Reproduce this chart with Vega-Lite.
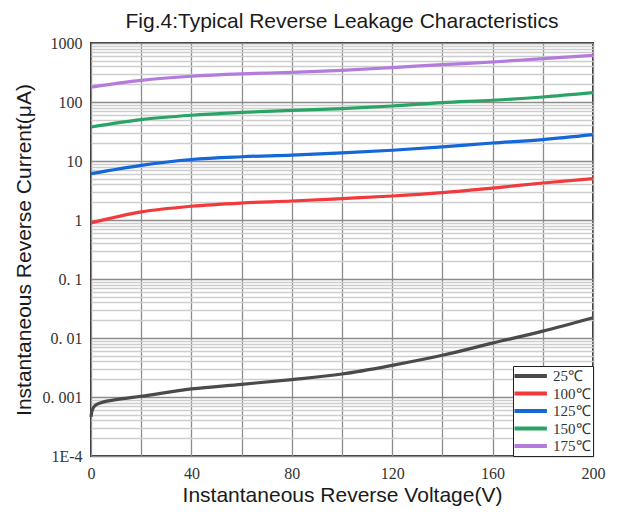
{
  "$schema": "https://vega.github.io/schema/vega-lite/v6.json",
  "width": 502,
  "height": 413,
  "autosize": {"type": "none"},
  "padding": {"left": 91, "top": 43, "right": 29, "bottom": 63},
  "background": "white",
  "title": {
    "text": "Fig.4:Typical Reverse Leakage Characteristics",
    "font": "Liberation Sans",
    "fontSize": 21,
    "fontWeight": "normal",
    "color": "#1a1a1a",
    "anchor": "middle",
    "baseline": "top",
    "offset": 3
  },
  "config": {
    "view": {"stroke": "#333333", "strokeWidth": 2},
    "axis": {"ticks": false, "domain": false}
  },
  "data": {
    "values": [
      {"V": 0, "I": 0.00046, "T": "25℃"},
      {"V": 0.4, "I": 0.00058, "T": "25℃"},
      {"V": 1.5, "I": 0.00071, "T": "25℃"},
      {"V": 4, "I": 0.0008, "T": "25℃"},
      {"V": 10, "I": 0.0009, "T": "25℃"},
      {"V": 20, "I": 0.00103, "T": "25℃"},
      {"V": 40, "I": 0.00137, "T": "25℃"},
      {"V": 60, "I": 0.00164, "T": "25℃"},
      {"V": 80, "I": 0.00197, "T": "25℃"},
      {"V": 100, "I": 0.00245, "T": "25℃"},
      {"V": 120, "I": 0.00344, "T": "25℃"},
      {"V": 140, "I": 0.00509, "T": "25℃"},
      {"V": 160, "I": 0.0082, "T": "25℃"},
      {"V": 180, "I": 0.0131, "T": "25℃"},
      {"V": 200, "I": 0.0221, "T": "25℃"},
      {"V": 0, "I": 0.89, "T": "100℃"},
      {"V": 20, "I": 1.37, "T": "100℃"},
      {"V": 40, "I": 1.71, "T": "100℃"},
      {"V": 60, "I": 1.94, "T": "100℃"},
      {"V": 80, "I": 2.1, "T": "100℃"},
      {"V": 100, "I": 2.31, "T": "100℃"},
      {"V": 120, "I": 2.55, "T": "100℃"},
      {"V": 140, "I": 2.91, "T": "100℃"},
      {"V": 160, "I": 3.48, "T": "100℃"},
      {"V": 180, "I": 4.24, "T": "100℃"},
      {"V": 200, "I": 5.03, "T": "100℃"},
      {"V": 0, "I": 6.1, "T": "125℃"},
      {"V": 20, "I": 8.45, "T": "125℃"},
      {"V": 40, "I": 10.6, "T": "125℃"},
      {"V": 60, "I": 11.8, "T": "125℃"},
      {"V": 80, "I": 12.6, "T": "125℃"},
      {"V": 100, "I": 13.7, "T": "125℃"},
      {"V": 120, "I": 15.2, "T": "125℃"},
      {"V": 140, "I": 17.3, "T": "125℃"},
      {"V": 160, "I": 20.2, "T": "125℃"},
      {"V": 180, "I": 23.1, "T": "125℃"},
      {"V": 200, "I": 28, "T": "125℃"},
      {"V": 0, "I": 37.7, "T": "150℃"},
      {"V": 20, "I": 50.3, "T": "150℃"},
      {"V": 40, "I": 59.6, "T": "150℃"},
      {"V": 60, "I": 66.5, "T": "150℃"},
      {"V": 80, "I": 72.3, "T": "150℃"},
      {"V": 100, "I": 77.3, "T": "150℃"},
      {"V": 120, "I": 85.5, "T": "150℃"},
      {"V": 140, "I": 97.7, "T": "150℃"},
      {"V": 160, "I": 107, "T": "150℃"},
      {"V": 180, "I": 121.6, "T": "150℃"},
      {"V": 200, "I": 144, "T": "150℃"},
      {"V": 0, "I": 179, "T": "175℃"},
      {"V": 20, "I": 233, "T": "175℃"},
      {"V": 40, "I": 273, "T": "175℃"},
      {"V": 60, "I": 300, "T": "175℃"},
      {"V": 80, "I": 318, "T": "175℃"},
      {"V": 100, "I": 344, "T": "175℃"},
      {"V": 120, "I": 383, "T": "175℃"},
      {"V": 140, "I": 430, "T": "175℃"},
      {"V": 160, "I": 476, "T": "175℃"},
      {"V": 180, "I": 545, "T": "175℃"},
      {"V": 200, "I": 619, "T": "175℃"}
    ]
  },
  "mark": {"type": "line", "strokeWidth": 3.2, "interpolate": "monotone"},
  "encoding": {
    "x": {
      "field": "V",
      "type": "quantitative",
      "scale": {"domain": [0, 200], "nice": false},
      "axis": {
        "title": "Instantaneous Reverse Voltage(V)",
        "titleFont": "Liberation Sans",
        "titleFontSize": 21,
        "titleFontWeight": "normal",
        "titleColor": "#1a1a1a",
        "titlePadding": 3,
        "values": [0, 20, 40, 60, 80, 100, 120, 140, 160, 180, 200],
        "labelExpr": "datum.value % 40 == 0 ? datum.label : ''",
        "labelFont": "Liberation Serif",
        "labelFontSize": 16,
        "labelColor": "#333333",
        "labelPadding": 9,
        "labelFlush": false,
        "grid": true,
        "gridColor": "#8c8c8c",
        "gridWidth": 1.3
      }
    },
    "y": {
      "field": "I",
      "type": "quantitative",
      "scale": {"type": "log", "domain": [0.0001, 1000], "nice": false},
      "axis": {
        "title": "Instantaneous Reverse Current(μA)",
        "titleFont": "Liberation Sans",
        "titleFontSize": 21,
        "titleFontWeight": "normal",
        "titleColor": "#1a1a1a",
        "titlePadding": 8,
        "values": [0.0001, 0.0002, 0.0003, 0.0004, 0.0005, 0.0006, 0.0007, 0.0008, 0.0009,
                   0.001, 0.002, 0.003, 0.004, 0.005, 0.006, 0.007, 0.008, 0.009,
                   0.01, 0.02, 0.03, 0.04, 0.05, 0.06, 0.07, 0.08, 0.09,
                   0.1, 0.2, 0.3, 0.4, 0.5, 0.6, 0.7, 0.8, 0.9,
                   1, 2, 3, 4, 5, 6, 7, 8, 9,
                   10, 20, 30, 40, 50, 60, 70, 80, 90,
                   100, 200, 300, 400, 500, 600, 700, 800, 900, 1000],
        "labelExpr": "datum.value == 1000 ? '1000' : datum.value == 100 ? '100' : datum.value == 10 ? '10' : datum.value == 1 ? '1' : datum.value == 0.1 ? '0. 1' : datum.value == 0.01 ? '0. 01' : datum.value == 0.001 ? '0. 001' : datum.value == 0.0001 ? '1E-4' : ''",
        "labelFont": "Liberation Serif",
        "labelFontSize": 16,
        "labelColor": "#333333",
        "labelPadding": 9,
        "labelFlush": false,
        "labelOverlap": false,
        "grid": true,
        "gridColor": {
          "condition": {"test": "abs(log(datum.value) / LN10 - round(log(datum.value) / LN10)) < 0.001", "value": "#8c8c8c"},
          "value": "#cdcdcd"
        },
        "gridWidth": 1.3
      }
    },
    "color": {
      "field": "T",
      "type": "nominal",
      "scale": {
        "domain": ["25℃", "100℃", "125℃", "150℃", "175℃"],
        "range": ["#4a4a4a", "#f2393c", "#1467d8", "#2aa465", "#b37bdc"]
      },
      "legend": {
        "title": null,
        "orient": "bottom-right",
        "offset": 0,
        "padding": 2,
        "fillColor": "white",
        "strokeColor": "#222222",
        "symbolType": "M -2.7 0 L 2.7 0",
        "symbolSize": 144,
        "symbolStrokeWidth": 4,
        "symbolOffset": 7.7,
        "labelFont": "Liberation Serif",
        "labelFontSize": 15,
        "labelColor": "#333333",
        "labelOffset": 14.3,
        "rowPadding": 1.5
      }
    }
  }
}
